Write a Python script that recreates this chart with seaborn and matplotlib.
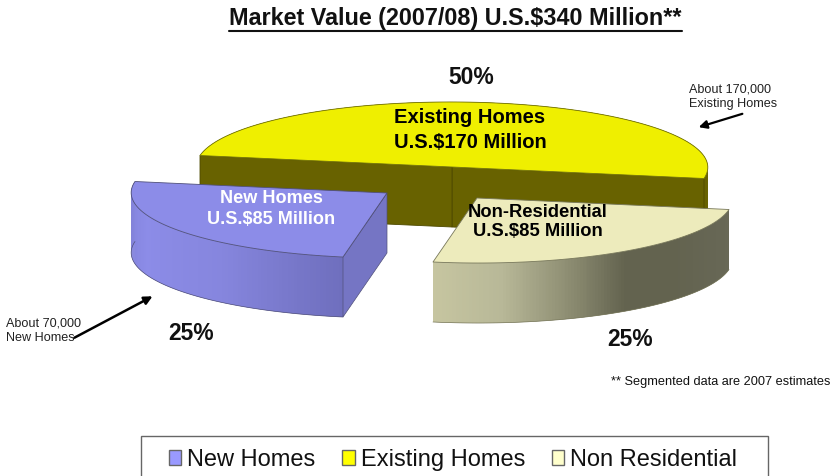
import matplotlib
matplotlib.use('Agg')
import matplotlib.pyplot as plt
from matplotlib.patches import Patch, Rectangle
import numpy as np
import seaborn as sns

# Data
categories = ['New Homes', 'Existing Homes', 'Non Residential']
shares = [25, 50, 25]
value_labels = ['New Homes\nU.S.$85 Million', 'Existing Homes\nU.S.$170 Million', 'Non-Residential\nU.S.$85 Million']
start_angles = [180, 0, 270]
title = 'Market Value (2007/08) U.S.$340 Million**'
footnote = '** Segmented data are 2007 estimates'
note_existing = 'About 170,000\nExisting Homes'
note_new = 'About 70,000\nNew Homes'

# Pie projection, in pixels of the 831x476 canvas
U = np.array([252, 11.5])
V = np.array([44, -64])
DEPTH = 60
centers = {'New Homes': (387, 193), 'Existing Homes': (452, 167), 'Non Residential': (477, 198)}
top_colors = {'New Homes': '#8c8ce8', 'Existing Homes': '#efef00', 'Non Residential': '#edebbc'}
edge_colors = {'New Homes': '#50507a', 'Existing Homes': '#77770a', 'Non Residential': '#77775a'}
wall_colors = {
    'New Homes': ['#7c7cd0', '#8c8ce8', '#8686de', '#6f6fbe'],
    'Existing Homes': ['#686200', '#686200'],
    'Non Residential': ['#c6c5a0', '#b8b898', '#8f8f74', '#63634f', '#63634f', '#666654', '#686856'],
}
legend_colors = ['#9999ff', '#ffff00', '#ffffcc']
label_pos = [(271, 209), (470, 130), (538, 222)]
label_size = [13.1, 14.5, 13.2]
label_space = [1.25, 1.35, 1.2]
label_color = ['white', 'black', 'black']
pct_pos = [(191, 333), (471, 78), (630, 339)]


def rim(theta, center):
    t = np.radians(theta)
    x = center[0] + np.cos(t) * U[0] + np.sin(t) * V[0]
    y = center[1] + np.cos(t) * U[1] + np.sin(t) * V[1]
    return x, y


def draw_slice(ax, name, share, start, z):
    c = centers[name]
    theta = np.linspace(start, start + share * 3.6, 121)
    x, y = rim(theta, c)
    n = len(theta) - 1
    pal = sns.blend_palette(wall_colors[name], n_colors=n)

    # outer wall, strips overlap the next one so no seams show
    for i in range(n):
        j = min(i + 2, n)
        ax.fill([x[i], x[j], x[j], x[i]], [y[i], y[j], y[j] + DEPTH, y[i] + DEPTH],
                color=pal[i], lw=0, zorder=z)
    ax.plot(x, y + DEPTH, color=edge_colors[name], lw=0.5, zorder=z)

    # flat cut faces
    if name == 'New Homes':
        ax.fill([c[0], x[-1], x[-1], c[0]], [c[1], y[-1], y[-1] + DEPTH, c[1] + DEPTH],
                facecolor='#7575c4', edgecolor=edge_colors[name], lw=0.5, zorder=z)
    if name == 'Existing Homes':
        for end in (0, -1):
            ax.fill([c[0], x[end], x[end], c[0]], [c[1], y[end], y[end] + DEPTH, c[1] + DEPTH],
                    facecolor='#686200', edgecolor='#4e4a00', lw=0.6, zorder=z)

    # top surface
    ax.fill(np.r_[c[0], x], np.r_[c[1], y], facecolor=top_colors[name],
            edgecolor=edge_colors[name], lw=0.6, joinstyle='round', zorder=z)


sns.set_theme(style='white')
plt.rcParams['font.family'] = ['Liberation Sans', 'DejaVu Sans']

fig = plt.figure(figsize=(8.31, 4.76), dpi=100)
ax = fig.add_axes([0, 0, 1, 1])
ax.set_xlim(0, 831)
ax.set_ylim(476, 0)
ax.axis('off')

# back slice first, the two pulled-out slices sit in front of it
for z, i in enumerate([1, 2, 0], start=1):
    draw_slice(ax, categories[i], shares[i], start_angles[i], z)

for i in range(3):
    ax.text(label_pos[i][0], label_pos[i][1], value_labels[i], ha='center', va='center', weight='bold',
            fontsize=label_size[i], color=label_color[i], linespacing=label_space[i], zorder=5)
    ax.text(pct_pos[i][0], pct_pos[i][1], f'{shares[i]}%', ha='center', va='center', weight='bold',
            fontsize=16.5, color='#111111', zorder=5)

t = ax.text(455.5, 18.5, title, ha='center', va='center', weight='bold', fontsize=16.8, color='#111111')
fig.canvas.draw()
bb = t.get_window_extent()
ax.plot([bb.x0, bb.x1], [30.5, 30.5], color='#111111', lw=1.5)

ax.text(611, 382, footnote, ha='left', va='center', fontsize=9.2, color='#111111')
ax.text(689, 97, note_existing, ha='left', va='center', fontsize=9.1, color='#222222', linespacing=1.25)
ax.text(6, 331, note_new, ha='left', va='center', fontsize=9.1, color='#222222', linespacing=1.25)
ax.annotate('', xy=(696, 128), xytext=(745, 113), arrowprops=dict(arrowstyle='-|>', color='black', lw=1.6))
ax.annotate('', xy=(155, 295), xytext=(72, 339), arrowprops=dict(arrowstyle='-|>', color='black', lw=1.8))

# legend box runs off the bottom of the canvas
ax.add_patch(Rectangle((141, 436), 627, 60, facecolor='white', edgecolor='#666666', lw=1))
handles = [Patch(facecolor=c, edgecolor='#666666', lw=1) for c in legend_colors]
ax.legend(handles, categories, ncols=3, loc='center', bbox_to_anchor=(453 / 831, 1 - 460 / 476), frameon=False,
          fontsize=17, handlelength=0.52, handleheight=0.6, handletextpad=0.25, columnspacing=1.14,
          labelcolor='#111111')

fig.savefig('out.png', dpi=100)
